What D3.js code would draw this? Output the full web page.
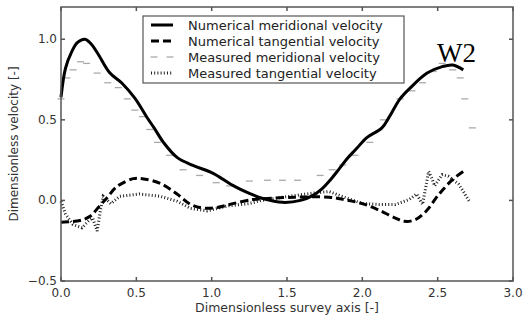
<!DOCTYPE html>
<html>
<head>
<meta charset="utf-8">
<script src="https://cdn.jsdelivr.net/npm/d3@7"></script>
<style>
  body { margin: 0; background: #fff; }
  svg { display: block; font-family: "DejaVu Sans", sans-serif; }
</style>
</head>
<body>
<svg id="chart" width="524" height="322"></svg>
<script>
// numerical meridional velocity (solid)
const numMerX = [0.0, 0.03, 0.07, 0.11, 0.16, 0.2, 0.245, 0.325, 0.405, 0.49, 0.57, 0.62, 0.68, 0.77, 0.876, 1.01, 1.14, 1.25, 1.34, 1.47, 1.59, 1.67, 1.73, 1.79, 1.85, 1.9, 1.96, 2.03, 2.13, 2.18, 2.25, 2.32, 2.43, 2.53, 2.6, 2.67]
const numMerY = [0.64, 0.82, 0.92, 0.98, 1.0, 0.97, 0.91, 0.79, 0.727, 0.634, 0.516, 0.447, 0.36, 0.267, 0.217, 0.168, 0.093, 0.043, 0.012, -0.012, 0.0, 0.03, 0.07, 0.13, 0.2, 0.26, 0.32, 0.39, 0.45, 0.52, 0.63, 0.7, 0.79, 0.83, 0.84, 0.81]

// numerical tangential velocity (dashed)
const numTanX = [0.0, 0.126, 0.19, 0.26, 0.3, 0.37, 0.48, 0.54, 0.66, 0.77, 0.86, 0.94, 1.03, 1.14, 1.27, 1.33, 1.55, 1.78, 1.88, 2.0, 2.11, 2.22, 2.28, 2.35, 2.42, 2.51, 2.6, 2.67]
const numTanY = [-0.135, -0.125, -0.1, -0.03, 0.01, 0.085, 0.135, 0.135, 0.105, 0.04, -0.025, -0.047, -0.045, -0.02, 0.005, 0.01, 0.02, 0.02, 0.005, -0.02, -0.06, -0.11, -0.13, -0.12, -0.07, 0.04, 0.13, 0.18]

// measured meridional velocity (gray dashes)
const measMerX = [0.0, 0.04, 0.08, 0.13, 0.17, 0.24, 0.31, 0.38, 0.44, 0.49, 0.54, 0.59, 0.64, 0.72, 0.81, 0.92, 1.03, 1.12, 1.25, 1.37, 1.47, 1.57, 1.72, 1.8, 1.87, 1.95, 2.05, 2.14, 2.25, 2.33, 2.4, 2.47, 2.53, 2.6, 2.65, 2.68, 2.73]
const measMerY = [0.63, 0.76, 0.81, 0.86, 0.85, 0.79, 0.73, 0.7, 0.63, 0.56, 0.52, 0.44, 0.36, 0.28, 0.19, 0.155, 0.11, 0.09, 0.12, 0.125, 0.125, 0.125, 0.155, 0.19, 0.22, 0.28, 0.36, 0.5, 0.63, 0.68, 0.73, 0.8, 0.85, 0.81, 0.76, 0.63, 0.45]

// measured tangential velocity (dotted)
const measTanX = [0.0, 0.03, 0.08, 0.14, 0.18, 0.21, 0.24, 0.26, 0.28, 0.33, 0.39, 0.52, 0.66, 0.77, 0.86, 0.97, 1.1, 1.25, 1.33, 1.51, 1.67, 1.78, 1.88, 2.0, 2.11, 2.22, 2.31, 2.36, 2.4, 2.44, 2.46, 2.48, 2.53, 2.57, 2.64, 2.71]
const measTanY = [-0.005, -0.085, -0.15, -0.17, -0.13, -0.11, -0.19, -0.07, 0.025, -0.02, 0.025, 0.04, 0.025, -0.005, -0.05, -0.065, -0.035, -0.02, 0.0, 0.025, 0.045, 0.055, 0.02, -0.02, -0.025, -0.025, 0.005, 0.04, -0.025, 0.18, 0.14, 0.09, 0.16, 0.15, 0.1, -0.005]

const xTicks = [0.0, 0.5, 1.0, 1.5, 2.0, 2.5, 3.0]
const yTicks = [-0.5, 0.0, 0.5, 1.0]

const legendLabels = [
    "Numerical meridional velocity",
    "Numerical tangential velocity",
    "Measured meridional velocity",
    "Measured tangential velocity",
]

const zip = (xs, ys) => xs.map((x, i) => ({ x, y: ys[i] }))

const svg = d3.select("#chart")
const margin = { top: 7, right: 11, bottom: 41, left: 61 }
const width = 524, height = 322
const x = d3.scaleLinear().domain([0, 3]).range([margin.left, width - margin.right])
const y = d3.scaleLinear().domain([-0.5, 1.2]).range([height - margin.bottom, margin.top])

const fmt = (d) => d3.format(".1f")(d).replace("-", "\u2212")

// curves
const smooth = d3.line().x((d) => x(d.x)).y((d) => y(d.y)).curve(d3.curveCatmullRom.alpha(0.5))
const straight = d3.line().x((d) => x(d.x)).y((d) => y(d.y))

const plot = svg.append("g")

plot.append("g")
    .selectAll("line")
    .data(zip(measMerX, measMerY))
    .join("line")
    .attr("x1", (d) => x(d.x) - 3.5)
    .attr("x2", (d) => x(d.x) + 3.5)
    .attr("y1", (d) => y(d.y))
    .attr("y2", (d) => y(d.y))
    .attr("stroke", "#aaa")
    .attr("stroke-width", 1.3)

plot.append("path")
    .datum(zip(measTanX, measTanY))
    .attr("fill", "none")
    .attr("stroke", "#222")
    .attr("stroke-width", 3)
    .attr("stroke-dasharray", "1,2.2")
    .attr("d", straight)

plot.append("path")
    .datum(zip(numTanX, numTanY))
    .attr("fill", "none")
    .attr("stroke", "#000")
    .attr("stroke-width", 3)
    .attr("stroke-dasharray", "8,4")
    .attr("d", smooth)

plot.append("path")
    .datum(zip(numMerX, numMerY))
    .attr("fill", "none")
    .attr("stroke", "#000")
    .attr("stroke-width", 3)
    .attr("d", smooth)

// frame and ticks (matplotlib classic: ticks inside on all sides)
const frame = svg.append("g").attr("stroke", "#555").attr("stroke-width", 1.5)
frame.append("rect")
    .attr("x", x(0)).attr("y", y(1.2))
    .attr("width", x(3) - x(0)).attr("height", y(-0.5) - y(1.2))
    .attr("fill", "none")

const tickLen = 4
xTicks.forEach((t) => {
    frame.append("line").attr("x1", x(t)).attr("x2", x(t)).attr("y1", y(-0.5)).attr("y2", y(-0.5) - tickLen)
    frame.append("line").attr("x1", x(t)).attr("x2", x(t)).attr("y1", y(1.2)).attr("y2", y(1.2) + tickLen)
})
yTicks.forEach((t) => {
    frame.append("line").attr("x1", x(0)).attr("x2", x(0) + tickLen).attr("y1", y(t)).attr("y2", y(t))
    frame.append("line").attr("x1", x(3)).attr("x2", x(3) - tickLen).attr("y1", y(t)).attr("y2", y(t))
})

svg.append("g")
    .selectAll("text")
    .data(xTicks)
    .join("text")
    .attr("x", (d) => x(d))
    .attr("y", y(-0.5) + 16)
    .attr("text-anchor", "middle")
    .attr("font-size", 12)
    .attr("fill", "#333")
    .text(fmt)

svg.append("g")
    .selectAll("text")
    .data(yTicks)
    .join("text")
    .attr("x", x(0) - 4)
    .attr("y", (d) => y(d) + 4)
    .attr("text-anchor", "end")
    .attr("font-size", 12)
    .attr("fill", "#333")
    .text(fmt)

svg.append("text")
    .attr("x", (x(0) + x(3)) / 2)
    .attr("y", 312)
    .attr("text-anchor", "middle")
    .attr("font-size", 12.5)
    .attr("fill", "#333")
    .text("Dimensionless survey axis [-]")

svg.append("text")
    .attr("transform", `translate(18, ${y(0.35)}) rotate(-90)`)
    .attr("text-anchor", "middle")
    .attr("font-size", 12)
    .attr("fill", "#333")
    .text("Dimensionless velocity [-]")

// legend
const legend = svg.append("g").attr("transform", "translate(143, 16)")
legend.append("rect")
    .attr("width", 261).attr("height", 67)
    .attr("fill", "#fff").attr("stroke", "#555").attr("stroke-width", 1.2)

const rowY = (i) => 9 + i * 16
legendLabels.forEach((label, i) => {
    legend.append("text")
        .attr("x", 45).attr("y", rowY(i) + 4.5)
        .attr("font-size", 13)
        .attr("fill", "#222")
        .text(label)
})
legend.append("line").attr("x1", 8).attr("x2", 30).attr("y1", rowY(0)).attr("y2", rowY(0))
    .attr("stroke", "#000").attr("stroke-width", 3)
legend.append("line").attr("x1", 8).attr("x2", 30).attr("y1", rowY(1)).attr("y2", rowY(1))
    .attr("stroke", "#000").attr("stroke-width", 3).attr("stroke-dasharray", "8,4")
;[11, 27].forEach((cx) => {
    legend.append("line").attr("x1", cx - 3.5).attr("x2", cx + 3.5).attr("y1", rowY(2)).attr("y2", rowY(2))
        .attr("stroke", "#aaa").attr("stroke-width", 1.3)
})
legend.append("line").attr("x1", 8).attr("x2", 30).attr("y1", rowY(3)).attr("y2", rowY(3))
    .attr("stroke", "#222").attr("stroke-width", 3).attr("stroke-dasharray", "1,2.2")

svg.append("text")
    .attr("x", 437).attr("y", 62)
    .attr("font-family", "'Liberation Serif', 'DejaVu Serif', serif")
    .attr("font-size", 27)
    .attr("fill", "#000")
    .text("W2")
</script>
</body>
</html>
